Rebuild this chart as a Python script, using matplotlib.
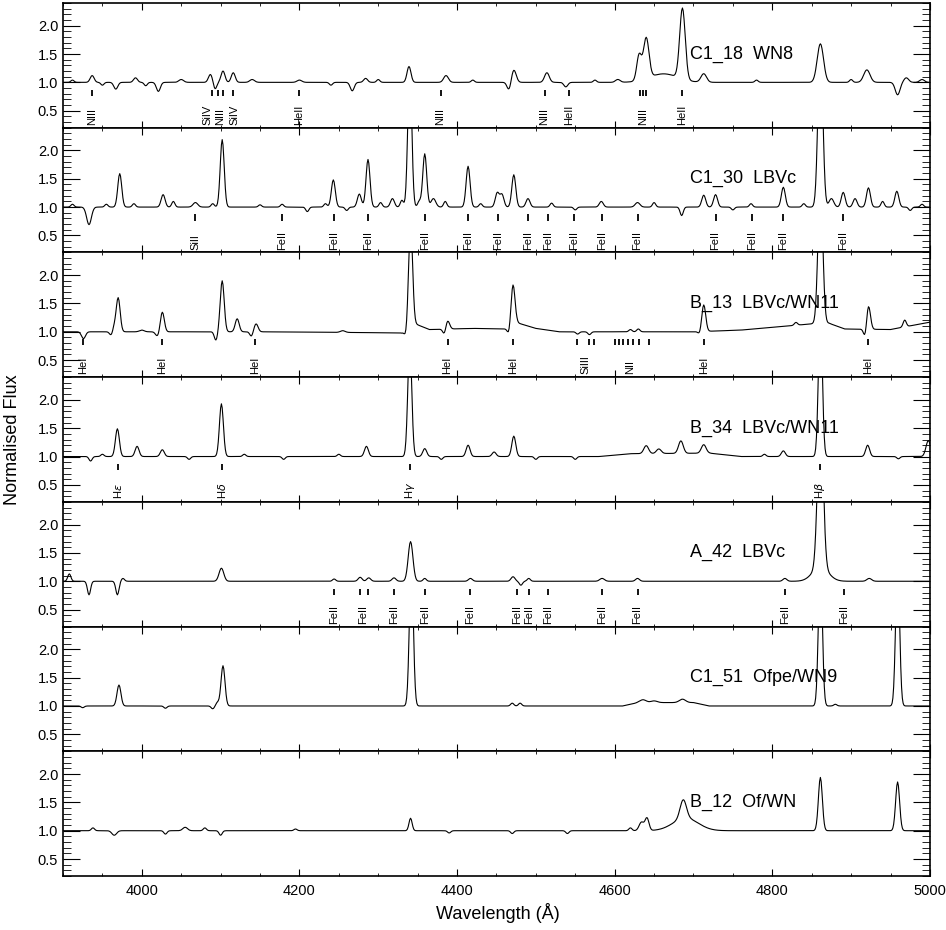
import numpy as np
import matplotlib
matplotlib.use('Agg')
import matplotlib.pyplot as plt
from matplotlib.ticker import MultipleLocator, FormatStrFormatter

plt.rcParams['font.family'] = ['Liberation Sans', 'DejaVu Sans']
plt.rcParams['axes.linewidth'] = 1.2

wave = np.arange(3900.0, 5001.0, 1.0)

names = ['C1_18  WN8', 'C1_30  LBVc', 'B_13  LBVc/WN11', 'B_34  LBVc/WN11',
         'A_42  LBVc', 'C1_51  Ofpe/WN9', 'B_12  Of/WN']

# continuum knots (wavelength, flux)
c1_18_cont = ([3900, 5000], [1.0, 1.0])
c1_30_cont = ([3900, 5000], [1.0, 1.0])
b_13_cont = ([3900, 4150, 4250, 4330, 4345, 4365, 4420, 4465, 4476, 4500, 4530, 4700,
              4760, 4850, 4872, 4892, 4950, 5000],
             [1.0, 1.0, 0.99, 0.98, 1.15, 1.04, 1.06, 1.05, 1.16, 1.06, 1.0, 1.0,
              1.03, 1.14, 1.15, 1.05, 1.04, 1.17])
b_34_cont = ([3900, 4580, 4620, 4720, 4760, 5000], [1.0, 1.0, 1.05, 1.06, 1.0, 1.0])
a_42_cont = ([3900, 5000], [1.0, 1.0])
c1_51_cont = ([3900, 4610, 4630, 4700, 4720, 5000], [1.0, 1.0, 1.06, 1.06, 1.0, 1.0])
b_12_cont = ([3900, 5000], [1.0, 1.0])

# features: (centre, height above continuum, width)
c1_18_lines = [(3912, 0.04, 2), (3937, 0.12, 2.5), (3950, -0.05, 2), (3967, -0.12, 2.5),
               (3992, 0.08, 2.5), (4005, -0.06, 2), (4021, -0.16, 2.5),
               (4050, 0.05, 3), (4087, 0.14, 2.5), (4093, -0.12, 2), (4103, 0.20, 2.5),
               (4116, 0.17, 2.5), (4140, 0.05, 3), (4200, 0.04, 3), (4240, -0.05, 2),
               (4267, -0.15, 2.5), (4284, 0.07, 2.5), (4300, 0.05, 2), (4339, 0.28, 2.5),
               (4386, 0.12, 3), (4420, 0.04, 2), (4466, -0.14, 2.5), (4472, 0.22, 3),
               (4514, 0.17, 3), (4538, -0.08, 2.5), (4575, 0.04, 2), (4604, 0.05, 3),
               (4631, 0.45, 3), (4640, 0.72, 3.5), (4662, 0.15, 18), (4686, 1.25, 3.5),
               (4713, 0.15, 3.5), (4780, 0.04, 2), (4861, 0.68, 4), (4900, 0.05, 2),
               (4920, 0.22, 4), (4959, -0.22, 3), (4970, 0.08, 3), (4990, 0.05, 3)]
c1_30_lines = [(3912, 0.05, 2), (3933, -0.31, 3), (3955, 0.05, 2), (3972, 0.59, 2.5),
               (3990, 0.06, 2), (4027, 0.22, 2.5), (4040, 0.10, 2), (4068, 0.08, 3),
               (4090, 0.06, 2), (4102, 1.19, 2.5), (4150, 0.04, 2), (4178, 0.05, 2),
               (4210, -0.08, 2), (4233, 0.06, 2), (4243, 0.48, 2.5), (4260, -0.06, 2),
               (4276, 0.23, 2.5), (4287, 0.84, 2.5), (4303, 0.08, 2), (4318, 0.15, 2.5),
               (4330, 0.12, 2), (4340, 2.5, 2.5), (4352, 0.10, 2), (4359, 0.94, 2.5),
               (4370, 0.15, 3), (4385, 0.10, 2), (4414, 0.72, 2.5), (4430, 0.06, 2),
               (4451, 0.25, 2.5), (4457, 0.22, 2.5), (4472, 0.57, 2.5), (4490, 0.15, 2.5),
               (4520, 0.07, 2), (4550, -0.05, 2), (4583, 0.10, 2.5), (4629, 0.08, 3),
               (4650, 0.08, 2), (4685, -0.15, 2), (4713, 0.21, 2.5), (4728, 0.22, 2.5),
               (4750, -0.05, 2), (4773, 0.06, 2), (4814, 0.35, 2.5), (4840, 0.06, 2),
               (4861, 3.0, 3), (4875, 0.15, 3), (4890, 0.26, 2.5), (4905, 0.15, 2.5),
               (4922, 0.34, 2.5), (4940, 0.10, 2), (4958, 0.28, 2.5), (4975, -0.06, 2),
               (4990, 0.05, 2)]
b_13_lines = [(3926, -0.12, 2.5), (3961, -0.06, 2), (3965, 0.08, 2), (3970, 0.60, 2.5),
              (4000, 0.03, 3), (4020, -0.08, 2.5), (4026, 0.35, 2.5), (4094, -0.15, 2),
              (4102, 0.90, 2.5), (4121, 0.23, 2.5), (4139, -0.08, 2), (4145, 0.14, 2.5),
              (4255, 0.03, 3), (4335, -0.10, 2), (4341, 1.8, 2.5), (4384, -0.10, 2),
              (4388, 0.15, 2.5), (4466, -0.10, 2), (4471, 0.72, 2.5), (4553, -0.04, 2),
              (4568, -0.05, 2), (4620, 0.04, 2), (4630, 0.05, 2), (4708, -0.05, 2),
              (4713, 0.47, 2.5), (4830, 0.05, 2), (4861, 2.5, 3), (4918, -0.17, 2),
              (4922, 0.42, 2.5), (4968, 0.12, 2)]
b_34_lines = [(3935, -0.08, 2), (3950, 0.04, 2), (3969, 0.49, 2.5), (3994, 0.18, 2.5),
              (4026, 0.12, 2.5), (4060, -0.05, 2), (4101, 0.93, 2.5), (4130, 0.04, 2),
              (4180, -0.05, 2), (4250, 0.04, 2), (4285, 0.18, 2.5), (4340, 2.0, 2.5),
              (4359, 0.14, 2.5), (4380, -0.05, 2), (4414, 0.20, 2.5), (4447, 0.08, 2.5),
              (4472, 0.36, 2.5), (4500, -0.05, 2), (4550, -0.05, 2), (4640, 0.14, 3),
              (4656, 0.08, 3), (4684, 0.22, 3), (4713, 0.15, 3), (4790, 0.04, 2),
              (4814, 0.10, 2.5), (4861, 2.5, 2.5), (4921, 0.20, 2.5), (4960, -0.04, 2),
              (4998, 0.28, 3)]
a_42_lines = [(3908, 0.13, 2), (3933, -0.24, 2), (3969, -0.24, 2), (3976, 0.05, 2),
              (4101, 0.23, 3), (4244, 0.04, 2), (4277, 0.07, 2.5), (4288, 0.06, 2.5),
              (4320, 0.06, 2.5), (4341, 0.70, 3), (4359, 0.05, 2), (4417, 0.05, 2.5),
              (4471, 0.08, 2.5), (4481, -0.07, 2), (4491, 0.05, 2), (4584, 0.05, 3),
              (4629, 0.05, 2.5), (4816, 0.05, 2.5), (4861, 2.8, 3.5), (4861, 0.25, 10),
              (4923, 0.05, 3)]
c1_51_lines = [(3925, -0.03, 2), (3971, 0.37, 2.5), (4030, -0.04, 2), (4090, -0.05, 2),
               (4096, 0.06, 2), (4103, 0.71, 2.5), (4342, 2.5, 2.5), (4470, 0.05, 2),
               (4480, 0.05, 2), (4636, 0.05, 4), (4650, 0.03, 4), (4686, 0.06, 4),
               (4861, 2.5, 2.5), (4880, 0.03, 2), (4959, 2.5, 2.5)]
b_12_lines = [(3938, 0.05, 2), (3965, -0.08, 3), (4030, -0.06, 2), (4055, 0.06, 3),
              (4080, 0.05, 2), (4100, -0.08, 2), (4195, 0.03, 2), (4341, 0.22, 2),
              (4390, -0.04, 2), (4470, -0.05, 2), (4540, -0.05, 2), (4620, 0.05, 2),
              (4634, 0.15, 3), (4641, 0.22, 2.5), (4687, 0.33, 4), (4690, 0.22, 16),
              (4861, 0.94, 2.5), (4959, 0.86, 2.5)]

# line identifications: (label, label position, tick positions)
c1_18_ids = [('NIII', 3937, [3937]), ('SiIV', 4083, [4089]), ('NIII', 4100, [4097, 4103]),
             ('SiIV', 4118, [4116]), ('HeII', 4200, [4200]), ('NIII', 4379, [4379]),
             ('NIII', 4511, [4511]), ('HeII', 4542, [4542]),
             ('NIII', 4636, [4632, 4636, 4640]), ('HeII', 4686, [4686])]
c1_30_ids = [('SiII', 4068, [4068])] + [('FeII', w, [w]) for w in
             [4178, 4244, 4287, 4359, 4414, 4452, 4490, 4515, 4549, 4584, 4629,
              4728, 4774, 4814, 4890]]
b_13_ids = [('HeI', 3926, [3926]), ('HeI', 4026, [4026]), ('HeI', 4144, [4144]),
            ('HeI', 4388, [4388]), ('HeI', 4471, [4471]),
            ('SiIII', 4563, [4552, 4567, 4574]),
            ('NII', 4620, [4600, 4606, 4611, 4617, 4623, 4631, 4643]),
            ('HeI', 4713, [4713]), ('HeI', 4922, [4922])]
b_34_ids = [('H$\\epsilon$', 3970, [3970]), ('H$\\delta$', 4102, [4102]),
            ('H$\\gamma$', 4340, [4340]), ('H$\\beta$', 4861, [4861])]
a_42_ids = [('FeII', 4244, [4244]), ('FeII', 4281, [4277, 4287])] + [('FeII', w, [w]) for w in
            [4320, 4359, 4417, 4476, 4491, 4515, 4584, 4629, 4816, 4891]]

conts = [c1_18_cont, c1_30_cont, b_13_cont, b_34_cont, a_42_cont, c1_51_cont, b_12_cont]
lines = [c1_18_lines, c1_30_lines, b_13_lines, b_34_lines, a_42_lines, c1_51_lines, b_12_lines]
ids = [c1_18_ids, c1_30_ids, b_13_ids, b_34_ids, a_42_ids, [], []]


def build(cont, feats):
    flux = np.interp(wave, cont[0], cont[1])
    for c, a, s in feats:
        flux += a * np.exp(-0.5 * ((wave - c) / s) ** 2)
    return flux


fig = plt.figure(figsize=(9.46, 9.30), dpi=100)
gs = fig.add_gridspec(7, 1, left=0.0666, right=0.983, top=0.9968, bottom=0.058, hspace=0)

for i in range(7):
    ax = fig.add_subplot(gs[i])
    ax.plot(wave, build(conts[i], lines[i]), color='black', lw=0.8)
    ax.set_xlim(3900, 5000)
    ax.set_ylim(0.2, 2.4)
    ax.text(4695, 1.5, names[i], fontsize=13, ha='left', va='center')
    for lab, lw_, ticks in ids[i]:
        ax.vlines(ticks, 0.76, 0.87, color='black', lw=1.3)
        ax.text(lw_, 0.25, lab, rotation=90, ha='center', va='bottom', fontsize=8)
    ax.xaxis.set_major_locator(MultipleLocator(200))
    ax.xaxis.set_minor_locator(MultipleLocator(50))
    ax.yaxis.set_major_locator(MultipleLocator(0.5))
    ax.yaxis.set_minor_locator(MultipleLocator(0.1))
    ax.yaxis.set_major_formatter(FormatStrFormatter('%.1f'))
    ax.tick_params(which='both', direction='in', top=True, right=True, labelsize=10.5)
    ax.tick_params(axis='x', which='major', length=5)
    ax.tick_params(axis='x', which='minor', length=2.5)
    ax.tick_params(axis='y', which='major', length=12)
    ax.tick_params(axis='y', which='minor', length=6)
    if i < 6:
        ax.tick_params(labelbottom=False)
    else:
        ax.tick_params(axis='x', pad=6)

fig.text(0.013, 0.527, 'Normalised Flux', rotation=90, ha='center', va='center', fontsize=13)
fig.text(0.526, 0.018, 'Wavelength (\u00c5)', ha='center', va='center', fontsize=13)

fig.savefig('out.png', dpi=100)
